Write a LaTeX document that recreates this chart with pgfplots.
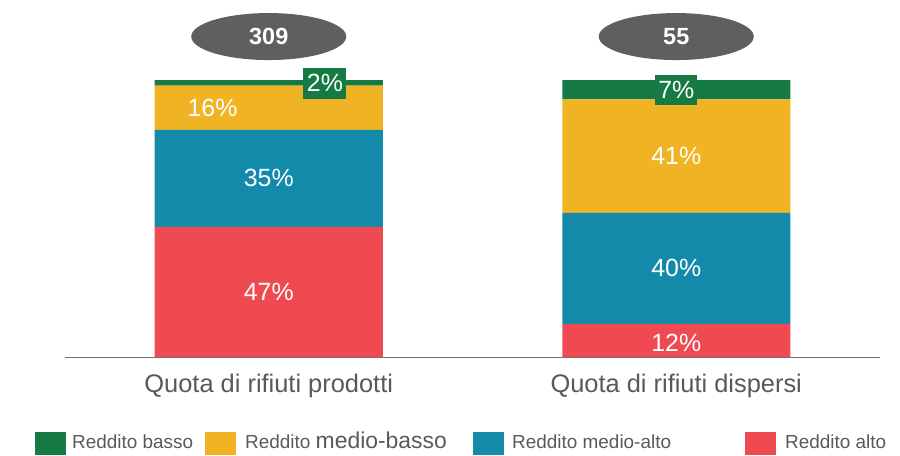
\documentclass[border=0pt]{standalone}
\usepackage{pgfplots}
\pgfplotsset{compat=1.18}
\usetikzlibrary{shapes.geometric}
\usepackage{fontspec}
\setmainfont{Liberation Sans}
\definecolor{cgreen}{HTML}{167A45}
\definecolor{cyellow}{HTML}{F0B323}
\definecolor{cblue}{HTML}{138AAA}
\definecolor{cred}{HTML}{EF4A51}
\definecolor{cgray}{HTML}{595959}
\definecolor{cell}{HTML}{5F5F5F}
\tikzset{
  pct/.style={text=white, font=\fontsize{25}{30}\selectfont},
  oval/.style={ellipse, fill=cell, minimum width=155bp, minimum height=47bp, inner sep=0pt,
    text=white, font=\bfseries\fontsize{23.5}{28}\selectfont},
  lkey/.style={minimum width=31bp, minimum height=23bp, inner sep=0pt},
  ltext/.style={anchor=base west, inner sep=0pt, text=cgray, font=\fontsize{19}{23}\selectfont},
}
\begin{document}
\begin{tikzpicture}
\begin{axis}[
  width=815bp, height=357bp, scale only axis,
  set layers,
  xmin=-0.5, xmax=1.5, ymin=0, ymax=128.9,
  ybar stacked, bar width=228bp,
  axis x line*=bottom, axis y line=none,
  x axis line style={draw=cgray!85, line width=1pt, -},
  ytick=\empty,
  xtick={0,1},
  xticklabels={Quota di rifiuti prodotti, Quota di rifiuti dispersi},
  major tick length=0pt,
  xticklabel style={font=\fontsize{25.5}{30}\selectfont, text=cgray, anchor=base, yshift=-35bp},
  clip=false,
]
\addplot[fill=cred, draw=none, on layer=axis background] coordinates {(0,47) (1,12)};
\addplot[fill=cblue, draw=none, on layer=axis background] coordinates {(0,35) (1,40)};
\addplot[fill=cyellow, draw=none, on layer=axis background] coordinates {(0,16) (1,41)};
\addplot[fill=cgreen, draw=none, on layer=axis background] coordinates {(0,2) (1,7)};

\node[pct] at (axis cs:0,23.5) {47\%};
\node[pct] at (axis cs:0,64.5) {35\%};
\node[pct] at (axis cs:-0.138,89.9) {16\%};
\node[pct, fill=cgreen, minimum width=43bp, minimum height=31bp, inner sep=0pt] at (axis cs:0.138,98.9) {2\%};
\node[pct] at (axis cs:1,5.1) {12\%};
\node[pct] at (axis cs:1,32) {40\%};
\node[pct] at (axis cs:1,72.5) {41\%};
\node[pct, fill=cgreen, minimum width=42bp, minimum height=30bp, inner sep=0pt] at (axis cs:1,96.4) {7\%};
\node[oval] at (axis cs:0,115.7) {309};
\node[oval] at (axis cs:1,115.7) {55};

% legend
\node[lkey, fill=cgreen]  at (rel axis cs:-0.01779,-0.24230) {};
\node[lkey, fill=cyellow] at (rel axis cs:0.19080,-0.24230) {};
\node[lkey, fill=cblue]   at (rel axis cs:0.51963,-0.24230) {};
\node[lkey, fill=cred]    at (rel axis cs:0.85337,-0.24230) {};
\node[ltext] at (rel axis cs:0.00859,-0.25490) {Reddito basso};
\node[ltext] at (rel axis cs:0.22086,-0.25490) {Reddito {\fontsize{23}{27}\selectfont medio-basso}};
\node[ltext] at (rel axis cs:0.54847,-0.25490) {Reddito medio-alto};
\node[ltext] at (rel axis cs:0.88344,-0.25490) {Reddito alto};

\coordinate (bl) at (rel axis cs:-0.07975,-0.27451);
\coordinate (tr) at (rel axis cs:1.02454,1);
\end{axis}
\pgfresetboundingbox
\path[use as bounding box] (bl) rectangle (tr);
\end{tikzpicture}
\end{document}
